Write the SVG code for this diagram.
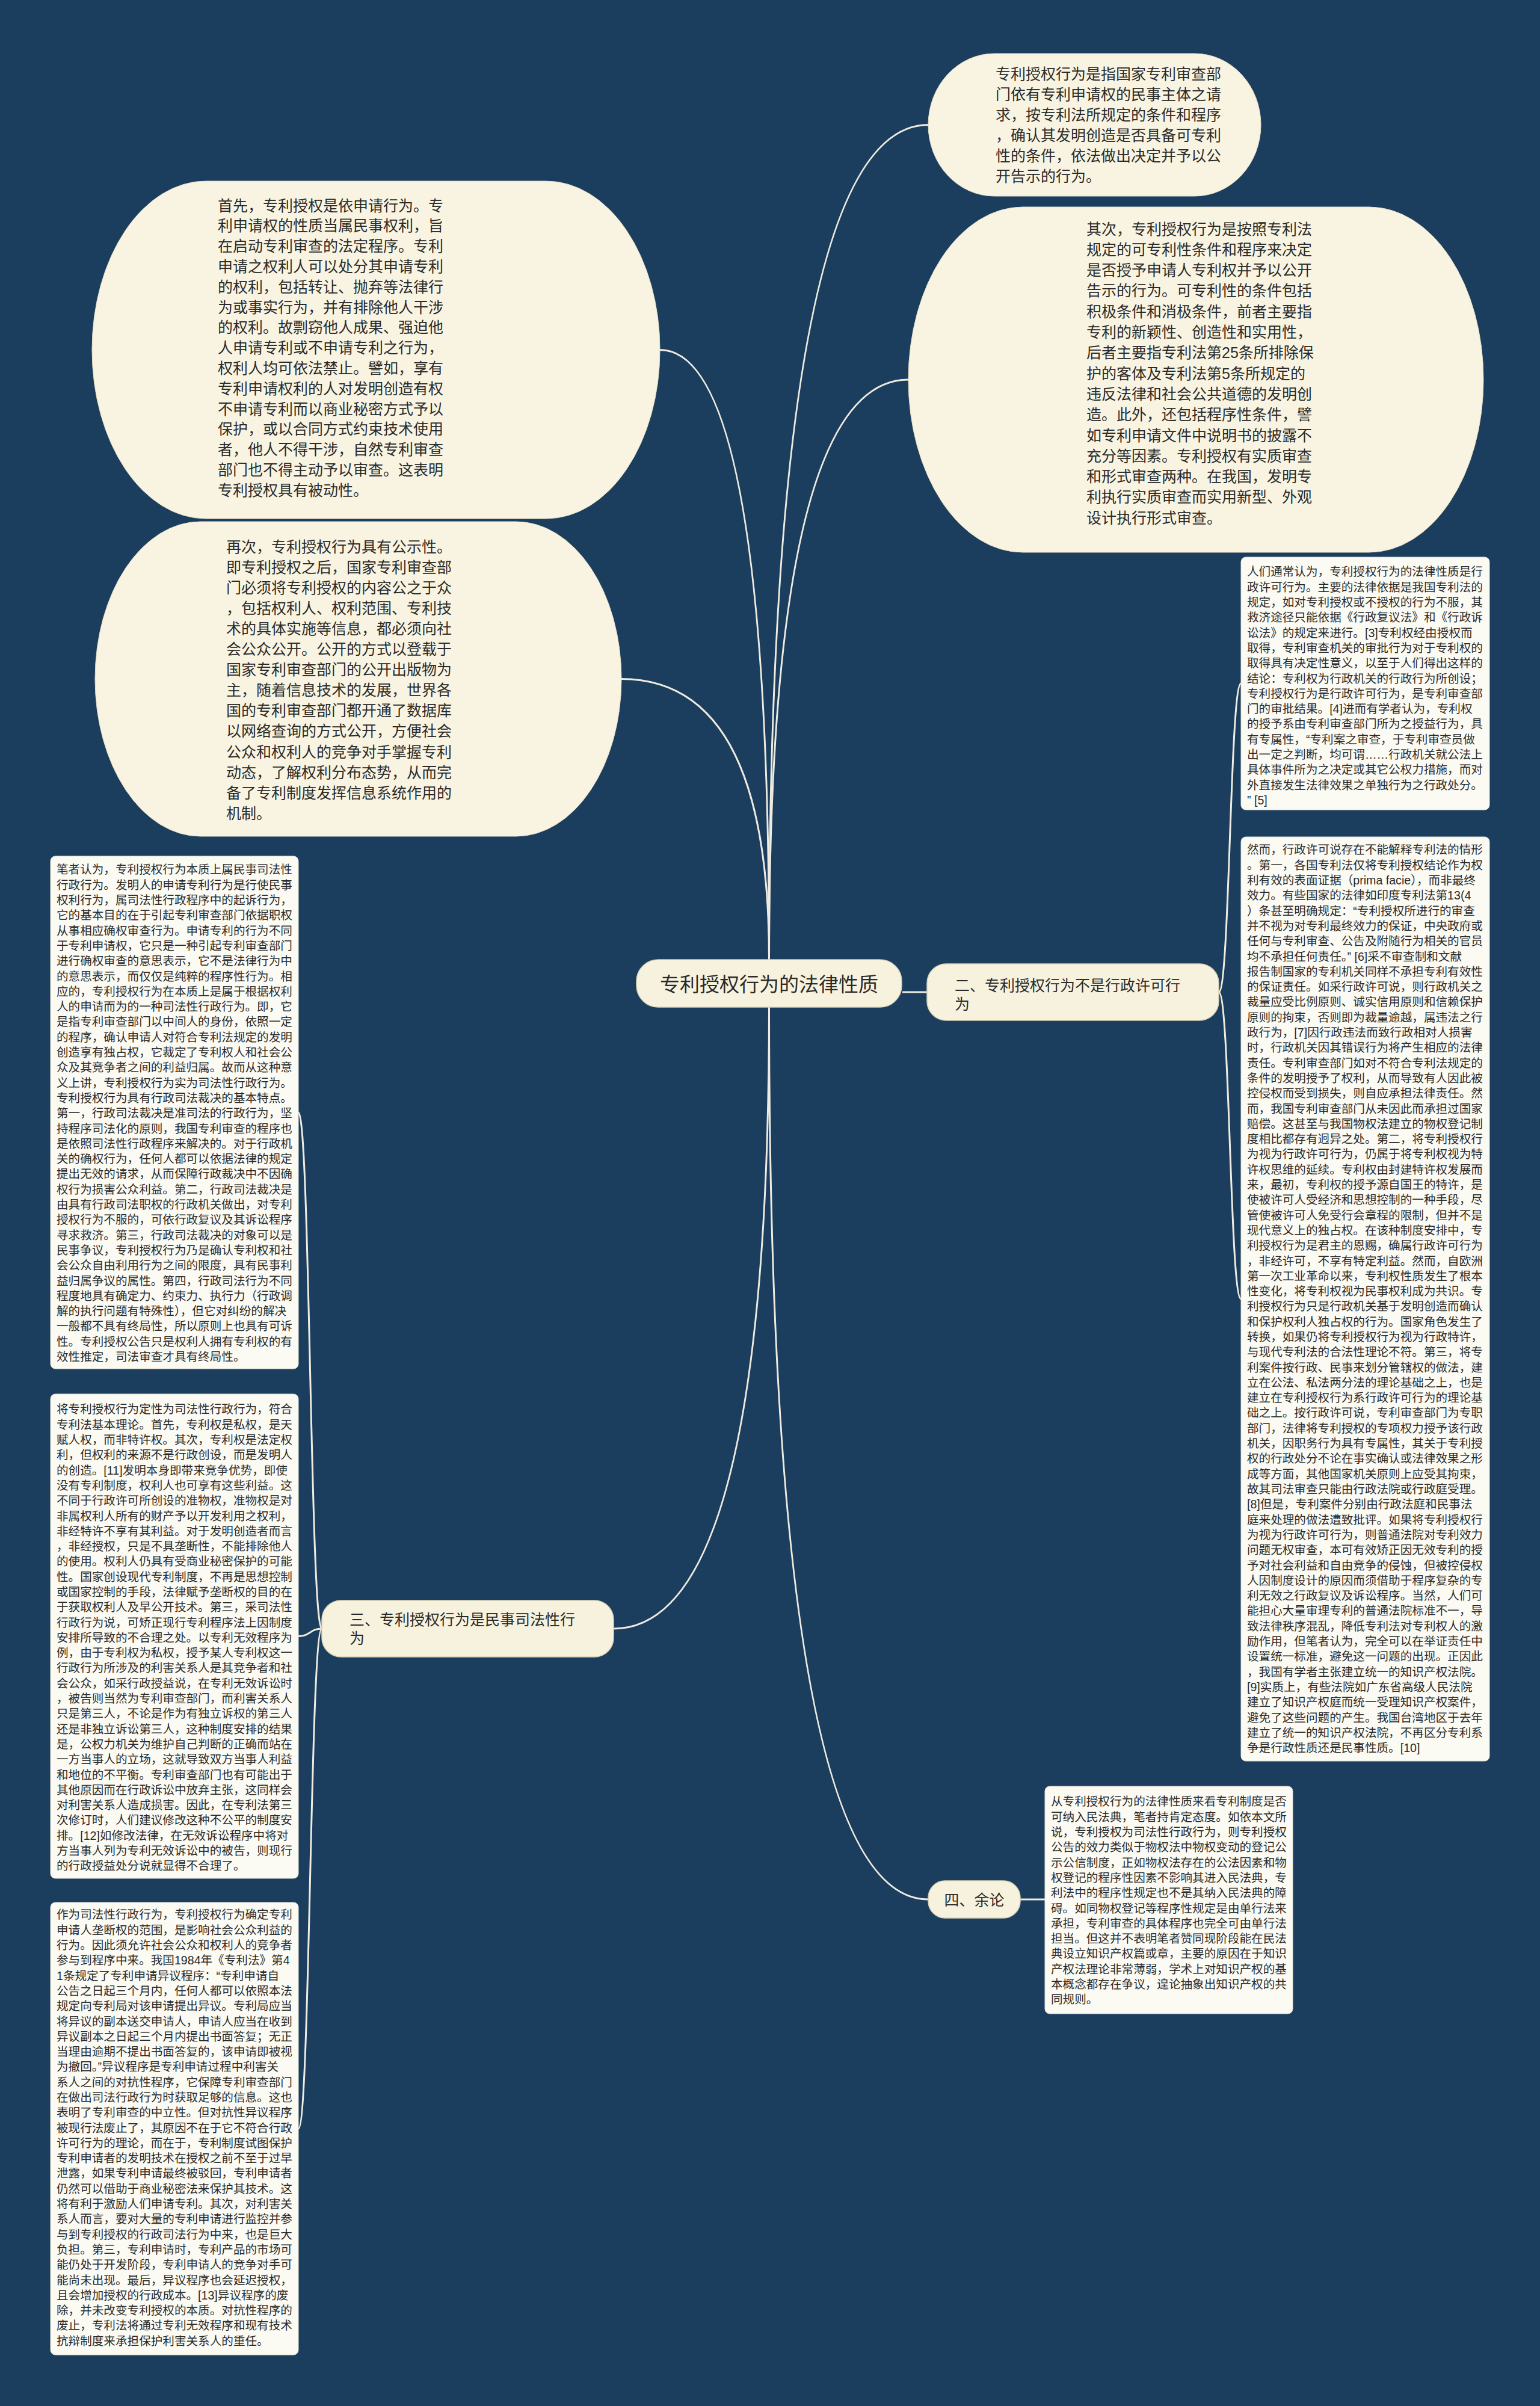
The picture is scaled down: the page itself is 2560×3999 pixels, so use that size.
<svg xmlns="http://www.w3.org/2000/svg" width="2560" height="3999" viewBox="0 0 2560 3999">
<style>
.bg{fill:#1b3d5e}
.ell{fill:#f8f4e1;stroke:#e6dfc6;stroke-width:1}
.pill{fill:#f7f2de;stroke:#d8d0b4;stroke-width:1.5}
.box{fill:#fbfaf3;stroke:#e4e2d6;stroke-width:1}
.link{fill:none;stroke:#efebe0;stroke-width:3}
text{font-family:"Liberation Sans","Noto Sans CJK SC",sans-serif;fill:#2a2a2a}
.t25{font-size:25px}
.t19{font-size:19.6px}
.t33{font-size:33px}
</style>
<rect class="bg" x="0" y="0" width="2560" height="3999"/>
<g id="connectors">
<path class="link" d="M1278.5 1595 Q1278.5 207.5 1543 207.5"/>
<path class="link" d="M1278.5 1595 Q1278.5 631 1510 631"/>
<path class="link" d="M1278.5 1595 Q1278.5 581.5 1097 581.5"/>
<path class="link" d="M1278.5 1595 Q1278.5 1128.5 1033 1128.5"/>
<path class="link" d="M1278.5 1674 Q1278.5 2707 1020 2707"/>
<path class="link" d="M1278.5 1674 Q1278.5 3157 1543 3157"/>
<path class="link" d="M1500 1649 H1541"/>
<path class="link" d="M2026 1649 C2044.5 1649 2044.5 1136 2063 1136"/>
<path class="link" d="M2026 1649 C2044.5 1649 2044.5 2159 2063 2159"/>
<path class="link" d="M535 2707 C515.5 2707 515.5 1849 496 1849"/>
<path class="link" d="M535 2707 C515.5 2707 515.5 2719.5 496 2719.5"/>
<path class="link" d="M535 2707 C515.5 2707 515.5 3538 496 3538"/>
<path class="link" d="M1696 3157 H1737"/>
</g>
<g id="center">
<rect class="pill" x="1058" y="1595" width="441" height="79" rx="36" ry="36"/>
<text class="t33" x="1278.5" y="1647.5" text-anchor="middle">专利授权行为的法律性质</text>
</g>
<g id="r1">
<rect class="ell" x="1543" y="89" width="553" height="237" rx="110" ry="118.5"/>
<text class="t25"><tspan x="1655" y="132">专利授权行为是指国家专利审查部</tspan><tspan x="1655" dy="34">门依有专利申请权的民事主体之请</tspan><tspan x="1655" dy="34">求，按专利法所规定的条件和程序</tspan><tspan x="1655" dy="34">，确认其发明创造是否具备可专利</tspan><tspan x="1655" dy="34">性的条件，依法做出决定并予以公</tspan><tspan x="1655" dy="34">开告示的行为。</tspan></text>
</g>
<g id="r2">
<rect class="ell" x="1510" y="344" width="956" height="574" rx="190" ry="287"/>
<text class="t25"><tspan x="1806" y="389.5">其次，专利授权行为是按照专利法</tspan><tspan x="1806" dy="34.3">规定的可专利性条件和程序来决定</tspan><tspan x="1806" dy="34.3">是否授予申请人专利权并予以公开</tspan><tspan x="1806" dy="34.3">告示的行为。可专利性的条件包括</tspan><tspan x="1806" dy="34.3">积极条件和消极条件，前者主要指</tspan><tspan x="1806" dy="34.3">专利的新颖性、创造性和实用性，</tspan><tspan x="1806" dy="34.3">后者主要指专利法第25条所排除保</tspan><tspan x="1806" dy="34.3">护的客体及专利法第5条所规定的</tspan><tspan x="1806" dy="34.3">违反法律和社会公共道德的发明创</tspan><tspan x="1806" dy="34.3">造。此外，还包括程序性条件，譬</tspan><tspan x="1806" dy="34.3">如专利申请文件中说明书的披露不</tspan><tspan x="1806" dy="34.3">充分等因素。专利授权有实质审查</tspan><tspan x="1806" dy="34.3">和形式审查两种。在我国，发明专</tspan><tspan x="1806" dy="34.3">利执行实质审查而实用新型、外观</tspan><tspan x="1806" dy="34.3">设计执行形式审查。</tspan></text>
</g>
<g id="l1">
<rect class="ell" x="153" y="301" width="944" height="561" rx="189" ry="280.5"/>
<text class="t25"><tspan x="362" y="350.5">首先，专利授权是依申请行为。专</tspan><tspan x="362" dy="33.8">利申请权的性质当属民事权利，旨</tspan><tspan x="362" dy="33.8">在启动专利审查的法定程序。专利</tspan><tspan x="362" dy="33.8">申请之权利人可以处分其申请专利</tspan><tspan x="362" dy="33.8">的权利，包括转让、抛弃等法律行</tspan><tspan x="362" dy="33.8">为或事实行为，并有排除他人干涉</tspan><tspan x="362" dy="33.8">的权利。故剽窃他人成果、强迫他</tspan><tspan x="362" dy="33.8">人申请专利或不申请专利之行为，</tspan><tspan x="362" dy="33.8">权利人均可依法禁止。譬如，享有</tspan><tspan x="362" dy="33.8">专利申请权利的人对发明创造有权</tspan><tspan x="362" dy="33.8">不申请专利而以商业秘密方式予以</tspan><tspan x="362" dy="33.8">保护，或以合同方式约束技术使用</tspan><tspan x="362" dy="33.8">者，他人不得干涉，自然专利审查</tspan><tspan x="362" dy="33.8">部门也不得主动予以审查。这表明</tspan><tspan x="362" dy="33.8">专利授权具有被动性。</tspan></text>
</g>
<g id="l2">
<rect class="ell" x="158" y="867" width="875" height="523" rx="175" ry="261.5"/>
<text class="t25"><tspan x="376" y="917.5">再次，专利授权行为具有公示性。</tspan><tspan x="376" dy="34.1">即专利授权之后，国家专利审查部</tspan><tspan x="376" dy="34.1">门必须将专利授权的内容公之于众</tspan><tspan x="376" dy="34.1">，包括权利人、权利范围、专利技</tspan><tspan x="376" dy="34.1">术的具体实施等信息，都必须向社</tspan><tspan x="376" dy="34.1">会公众公开。公开的方式以登载于</tspan><tspan x="376" dy="34.1">国家专利审查部门的公开出版物为</tspan><tspan x="376" dy="34.1">主，随着信息技术的发展，世界各</tspan><tspan x="376" dy="34.1">国的专利审查部门都开通了数据库</tspan><tspan x="376" dy="34.1">以网络查询的方式公开，方便社会</tspan><tspan x="376" dy="34.1">公众和权利人的竞争对手掌握专利</tspan><tspan x="376" dy="34.1">动态，了解权利分布态势，从而完</tspan><tspan x="376" dy="34.1">备了专利制度发挥信息系统作用的</tspan><tspan x="376" dy="34.1">机制。</tspan></text>
</g>
<g id="b2">
<rect class="pill" x="1541" y="1602" width="485" height="94" rx="32" ry="32"/>
<text class="t25"><tspan x="1587" y="1647">二、专利授权行为不是行政许可行</tspan><tspan x="1587" dy="31">为</tspan></text>
</g>
<g id="b3">
<rect class="pill" x="535" y="2660" width="485" height="94" rx="32" ry="32"/>
<text class="t25"><tspan x="581" y="2701">三、专利授权行为是民事司法性行</tspan><tspan x="581" dy="31">为</tspan></text>
</g>
<g id="b4">
<rect class="pill" x="1543" y="3126" width="153" height="62" rx="28" ry="28"/>
<text class="t25" x="1619.5" y="3166.5" text-anchor="middle">四、余论</text>
</g>
<g id="r-box1">
<rect class="box" x="2063" y="926" width="413" height="420" rx="8"/>
<text class="t19"><tspan x="2073" y="957.4">人们通常认为，专利授权行为的法律性质是行</tspan><tspan x="2073" dy="25.3">政许可行为。主要的法律依据是我国专利法的</tspan><tspan x="2073" dy="25.3">规定，如对专利授权或不授权的行为不服，其</tspan><tspan x="2073" dy="25.3">救济途径只能依据《行政复议法》和《行政诉</tspan><tspan x="2073" dy="25.3">讼法》的规定来进行。[3]专利权经由授权而</tspan><tspan x="2073" dy="25.3">取得，专利审查机关的审批行为对于专利权的</tspan><tspan x="2073" dy="25.3">取得具有决定性意义，以至于人们得出这样的</tspan><tspan x="2073" dy="25.3">结论：专利权为行政机关的行政行为所创设；</tspan><tspan x="2073" dy="25.3">专利授权行为是行政许可行为，是专利审查部</tspan><tspan x="2073" dy="25.3">门的审批结果。[4]进而有学者认为，专利权</tspan><tspan x="2073" dy="25.3">的授予系由专利审查部门所为之授益行为，具</tspan><tspan x="2073" dy="25.3">有专属性，“专利案之审查，于专利审查员做</tspan><tspan x="2073" dy="25.3">出一定之判断，均可谓……行政机关就公法上</tspan><tspan x="2073" dy="25.3">具体事件所为之决定或其它公权力措施，而对</tspan><tspan x="2073" dy="25.3">外直接发生法律效果之单独行为之行政处分。</tspan><tspan x="2073" dy="25.3">” [5]</tspan></text>
</g>
<g id="r-box2">
<rect class="box" x="2063" y="1391" width="413" height="1536" rx="8"/>
<text class="t19"><tspan x="2073" y="1419.4">然而，行政许可说存在不能解释专利法的情形</tspan><tspan x="2073" dy="25.3">。第一，各国专利法仅将专利授权结论作为权</tspan><tspan x="2073" dy="25.3">利有效的表面证据（prima facie），而非最终</tspan><tspan x="2073" dy="25.3">效力。有些国家的法律如印度专利法第13(4</tspan><tspan x="2073" dy="25.3">）条甚至明确规定：“专利授权所进行的审查</tspan><tspan x="2073" dy="25.3">并不视为对专利最终效力的保证，中央政府或</tspan><tspan x="2073" dy="25.3">任何与专利审查、公告及附随行为相关的官员</tspan><tspan x="2073" dy="25.3">均不承担任何责任。” [6]采不审查制和文献</tspan><tspan x="2073" dy="25.3">报告制国家的专利机关同样不承担专利有效性</tspan><tspan x="2073" dy="25.3">的保证责任。如采行政许可说，则行政机关之</tspan><tspan x="2073" dy="25.3">裁量应受比例原则、诚实信用原则和信赖保护</tspan><tspan x="2073" dy="25.3">原则的拘束，否则即为裁量逾越，属违法之行</tspan><tspan x="2073" dy="25.3">政行为，[7]因行政违法而致行政相对人损害</tspan><tspan x="2073" dy="25.3">时，行政机关因其错误行为将产生相应的法律</tspan><tspan x="2073" dy="25.3">责任。专利审查部门如对不符合专利法规定的</tspan><tspan x="2073" dy="25.3">条件的发明授予了权利，从而导致有人因此被</tspan><tspan x="2073" dy="25.3">控侵权而受到损失，则自应承担法律责任。然</tspan><tspan x="2073" dy="25.3">而，我国专利审查部门从未因此而承担过国家</tspan><tspan x="2073" dy="25.3">赔偿。这甚至与我国物权法建立的物权登记制</tspan><tspan x="2073" dy="25.3">度相比都存有迥异之处。第二，将专利授权行</tspan><tspan x="2073" dy="25.3">为视为行政许可行为，仍属于将专利权视为特</tspan><tspan x="2073" dy="25.3">许权思维的延续。专利权由封建特许权发展而</tspan><tspan x="2073" dy="25.3">来，最初，专利权的授予源自国王的特许，是</tspan><tspan x="2073" dy="25.3">使被许可人受经济和思想控制的一种手段，尽</tspan><tspan x="2073" dy="25.3">管使被许可人免受行会章程的限制，但并不是</tspan><tspan x="2073" dy="25.3">现代意义上的独占权。在该种制度安排中，专</tspan><tspan x="2073" dy="25.3">利授权行为是君主的恩赐，确属行政许可行为</tspan><tspan x="2073" dy="25.3">，非经许可，不享有特定利益。然而，自欧洲</tspan><tspan x="2073" dy="25.3">第一次工业革命以来，专利权性质发生了根本</tspan><tspan x="2073" dy="25.3">性变化，将专利权视为民事权利成为共识。专</tspan><tspan x="2073" dy="25.3">利授权行为只是行政机关基于发明创造而确认</tspan><tspan x="2073" dy="25.3">和保护权利人独占权的行为。国家角色发生了</tspan><tspan x="2073" dy="25.3">转换，如果仍将专利授权行为视为行政特许，</tspan><tspan x="2073" dy="25.3">与现代专利法的合法性理论不符。第三，将专</tspan><tspan x="2073" dy="25.3">利案件按行政、民事来划分管辖权的做法，建</tspan><tspan x="2073" dy="25.3">立在公法、私法两分法的理论基础之上，也是</tspan><tspan x="2073" dy="25.3">建立在专利授权行为系行政许可行为的理论基</tspan><tspan x="2073" dy="25.3">础之上。按行政许可说，专利审查部门为专职</tspan><tspan x="2073" dy="25.3">部门，法律将专利授权的专项权力授予该行政</tspan><tspan x="2073" dy="25.3">机关，因职务行为具有专属性，其关于专利授</tspan><tspan x="2073" dy="25.3">权的行政处分不论在事实确认或法律效果之形</tspan><tspan x="2073" dy="25.3">成等方面，其他国家机关原则上应受其拘束，</tspan><tspan x="2073" dy="25.3">故其司法审查只能由行政法院或行政庭受理。</tspan><tspan x="2073" dy="25.3">[8]但是，专利案件分别由行政法庭和民事法</tspan><tspan x="2073" dy="25.3">庭来处理的做法遭致批评。如果将专利授权行</tspan><tspan x="2073" dy="25.3">为视为行政许可行为，则普通法院对专利效力</tspan><tspan x="2073" dy="25.3">问题无权审查，本可有效矫正因无效专利的授</tspan><tspan x="2073" dy="25.3">予对社会利益和自由竞争的侵蚀，但被控侵权</tspan><tspan x="2073" dy="25.3">人因制度设计的原因而须借助于程序复杂的专</tspan><tspan x="2073" dy="25.3">利无效之行政复议及诉讼程序。当然，人们可</tspan><tspan x="2073" dy="25.3">能担心大量审理专利的普通法院标准不一，导</tspan><tspan x="2073" dy="25.3">致法律秩序混乱，降低专利法对专利权人的激</tspan><tspan x="2073" dy="25.3">励作用，但笔者认为，完全可以在举证责任中</tspan><tspan x="2073" dy="25.3">设置统一标准，避免这一问题的出现。正因此</tspan><tspan x="2073" dy="25.3">，我国有学者主张建立统一的知识产权法院。</tspan><tspan x="2073" dy="25.3">[9]实质上，有些法院如广东省高级人民法院</tspan><tspan x="2073" dy="25.3">建立了知识产权庭而统一受理知识产权案件，</tspan><tspan x="2073" dy="25.3">避免了这些问题的产生。我国台湾地区于去年</tspan><tspan x="2073" dy="25.3">建立了统一的知识产权法院，不再区分专利系</tspan><tspan x="2073" dy="25.3">争是行政性质还是民事性质。[10]</tspan></text>
</g>
<g id="l-box1">
<rect class="box" x="84" y="1423" width="412" height="852" rx="8"/>
<text class="t19"><tspan x="94" y="1452.4">笔者认为，专利授权行为本质上属民事司法性</tspan><tspan x="94" dy="25.3">行政行为。发明人的申请专利行为是行使民事</tspan><tspan x="94" dy="25.3">权利行为，属司法性行政程序中的起诉行为，</tspan><tspan x="94" dy="25.3">它的基本目的在于引起专利审查部门依据职权</tspan><tspan x="94" dy="25.3">从事相应确权审查行为。申请专利的行为不同</tspan><tspan x="94" dy="25.3">于专利申请权，它只是一种引起专利审查部门</tspan><tspan x="94" dy="25.3">进行确权审查的意思表示，它不是法律行为中</tspan><tspan x="94" dy="25.3">的意思表示，而仅仅是纯粹的程序性行为。相</tspan><tspan x="94" dy="25.3">应的，专利授权行为在本质上是属于根据权利</tspan><tspan x="94" dy="25.3">人的申请而为的一种司法性行政行为。即，它</tspan><tspan x="94" dy="25.3">是指专利审查部门以中间人的身份，依照一定</tspan><tspan x="94" dy="25.3">的程序，确认申请人对符合专利法规定的发明</tspan><tspan x="94" dy="25.3">创造享有独占权，它裁定了专利权人和社会公</tspan><tspan x="94" dy="25.3">众及其竞争者之间的利益归属。故而从这种意</tspan><tspan x="94" dy="25.3">义上讲，专利授权行为实为司法性行政行为。</tspan><tspan x="94" dy="25.3">专利授权行为具有行政司法裁决的基本特点。</tspan><tspan x="94" dy="25.3">第一，行政司法裁决是准司法的行政行为，坚</tspan><tspan x="94" dy="25.3">持程序司法化的原则，我国专利审查的程序也</tspan><tspan x="94" dy="25.3">是依照司法性行政程序来解决的。对于行政机</tspan><tspan x="94" dy="25.3">关的确权行为，任何人都可以依据法律的规定</tspan><tspan x="94" dy="25.3">提出无效的请求，从而保障行政裁决中不因确</tspan><tspan x="94" dy="25.3">权行为损害公众利益。第二，行政司法裁决是</tspan><tspan x="94" dy="25.3">由具有行政司法职权的行政机关做出，对专利</tspan><tspan x="94" dy="25.3">授权行为不服的，可依行政复议及其诉讼程序</tspan><tspan x="94" dy="25.3">寻求救济。第三，行政司法裁决的对象可以是</tspan><tspan x="94" dy="25.3">民事争议，专利授权行为乃是确认专利权和社</tspan><tspan x="94" dy="25.3">会公众自由利用行为之间的限度，具有民事利</tspan><tspan x="94" dy="25.3">益归属争议的属性。第四，行政司法行为不同</tspan><tspan x="94" dy="25.3">程度地具有确定力、约束力、执行力（行政调</tspan><tspan x="94" dy="25.3">解的执行问题有特殊性），但它对纠纷的解决</tspan><tspan x="94" dy="25.3">一般都不具有终局性，所以原则上也具有可诉</tspan><tspan x="94" dy="25.3">性。专利授权公告只是权利人拥有专利权的有</tspan><tspan x="94" dy="25.3">效性推定，司法审查才具有终局性。</tspan></text>
</g>
<g id="l-box2">
<rect class="box" x="84" y="2317" width="412" height="805" rx="8"/>
<text class="t19"><tspan x="94" y="2349.4">将专利授权行为定性为司法性行政行为，符合</tspan><tspan x="94" dy="25.3">专利法基本理论。首先，专利权是私权，是天</tspan><tspan x="94" dy="25.3">赋人权，而非特许权。其次，专利权是法定权</tspan><tspan x="94" dy="25.3">利，但权利的来源不是行政创设，而是发明人</tspan><tspan x="94" dy="25.3">的创造。[11]发明本身即带来竞争优势，即使</tspan><tspan x="94" dy="25.3">没有专利制度，权利人也可享有这些利益。这</tspan><tspan x="94" dy="25.3">不同于行政许可所创设的准物权，准物权是对</tspan><tspan x="94" dy="25.3">非属权利人所有的财产予以开发利用之权利，</tspan><tspan x="94" dy="25.3">非经特许不享有其利益。对于发明创造者而言</tspan><tspan x="94" dy="25.3">，非经授权，只是不具垄断性，不能排除他人</tspan><tspan x="94" dy="25.3">的使用。权利人仍具有受商业秘密保护的可能</tspan><tspan x="94" dy="25.3">性。国家创设现代专利制度，不再是思想控制</tspan><tspan x="94" dy="25.3">或国家控制的手段，法律赋予垄断权的目的在</tspan><tspan x="94" dy="25.3">于获取权利人及早公开技术。第三，采司法性</tspan><tspan x="94" dy="25.3">行政行为说，可矫正现行专利程序法上因制度</tspan><tspan x="94" dy="25.3">安排所导致的不合理之处。以专利无效程序为</tspan><tspan x="94" dy="25.3">例，由于专利权为私权，授予某人专利权这一</tspan><tspan x="94" dy="25.3">行政行为所涉及的利害关系人是其竞争者和社</tspan><tspan x="94" dy="25.3">会公众，如采行政授益说，在专利无效诉讼时</tspan><tspan x="94" dy="25.3">，被告则当然为专利审查部门，而利害关系人</tspan><tspan x="94" dy="25.3">只是第三人，不论是作为有独立诉权的第三人</tspan><tspan x="94" dy="25.3">还是非独立诉讼第三人，这种制度安排的结果</tspan><tspan x="94" dy="25.3">是，公权力机关为维护自己判断的正确而站在</tspan><tspan x="94" dy="25.3">一方当事人的立场，这就导致双方当事人利益</tspan><tspan x="94" dy="25.3">和地位的不平衡。专利审查部门也有可能出于</tspan><tspan x="94" dy="25.3">其他原因而在行政诉讼中放弃主张，这同样会</tspan><tspan x="94" dy="25.3">对利害关系人造成损害。因此，在专利法第三</tspan><tspan x="94" dy="25.3">次修订时，人们建议修改这种不公平的制度安</tspan><tspan x="94" dy="25.3">排。[12]如修改法律，在无效诉讼程序中将对</tspan><tspan x="94" dy="25.3">方当事人列为专利无效诉讼中的被告，则现行</tspan><tspan x="94" dy="25.3">的行政授益处分说就显得不合理了。</tspan></text>
</g>
<g id="l-box3">
<rect class="box" x="84" y="3162" width="412" height="752" rx="8"/>
<text class="t19"><tspan x="94" y="3189.4">作为司法性行政行为，专利授权行为确定专利</tspan><tspan x="94" dy="25.3">申请人垄断权的范围，是影响社会公众利益的</tspan><tspan x="94" dy="25.3">行为。因此须允许社会公众和权利人的竞争者</tspan><tspan x="94" dy="25.3">参与到程序中来。我国1984年《专利法》第4</tspan><tspan x="94" dy="25.3">1条规定了专利申请异议程序：“专利申请自</tspan><tspan x="94" dy="25.3">公告之日起三个月内，任何人都可以依照本法</tspan><tspan x="94" dy="25.3">规定向专利局对该申请提出异议。专利局应当</tspan><tspan x="94" dy="25.3">将异议的副本送交申请人，申请人应当在收到</tspan><tspan x="94" dy="25.3">异议副本之日起三个月内提出书面答复；无正</tspan><tspan x="94" dy="25.3">当理由逾期不提出书面答复的，该申请即被视</tspan><tspan x="94" dy="25.3">为撤回。”异议程序是专利申请过程中利害关</tspan><tspan x="94" dy="25.3">系人之间的对抗性程序，它保障专利审查部门</tspan><tspan x="94" dy="25.3">在做出司法行政行为时获取足够的信息。这也</tspan><tspan x="94" dy="25.3">表明了专利审查的中立性。但对抗性异议程序</tspan><tspan x="94" dy="25.3">被现行法废止了，其原因不在于它不符合行政</tspan><tspan x="94" dy="25.3">许可行为的理论，而在于，专利制度试图保护</tspan><tspan x="94" dy="25.3">专利申请者的发明技术在授权之前不至于过早</tspan><tspan x="94" dy="25.3">泄露，如果专利申请最终被驳回，专利申请者</tspan><tspan x="94" dy="25.3">仍然可以借助于商业秘密法来保护其技术。这</tspan><tspan x="94" dy="25.3">将有利于激励人们申请专利。其次，对利害关</tspan><tspan x="94" dy="25.3">系人而言，要对大量的专利申请进行监控并参</tspan><tspan x="94" dy="25.3">与到专利授权的行政司法行为中来，也是巨大</tspan><tspan x="94" dy="25.3">负担。第三，专利申请时，专利产品的市场可</tspan><tspan x="94" dy="25.3">能仍处于开发阶段，专利申请人的竞争对手可</tspan><tspan x="94" dy="25.3">能尚未出现。最后，异议程序也会延迟授权，</tspan><tspan x="94" dy="25.3">且会增加授权的行政成本。[13]异议程序的废</tspan><tspan x="94" dy="25.3">除，并未改变专利授权的本质。对抗性程序的</tspan><tspan x="94" dy="25.3">废止，专利法将通过专利无效程序和现有技术</tspan><tspan x="94" dy="25.3">抗辩制度来承担保护利害关系人的重任。</tspan></text>
</g>
<g id="b4-box">
<rect class="box" x="1737" y="2969" width="412" height="378" rx="8"/>
<text class="t19"><tspan x="1747" y="3001.4">从专利授权行为的法律性质来看专利制度是否</tspan><tspan x="1747" dy="25.3">可纳入民法典，笔者持肯定态度。如依本文所</tspan><tspan x="1747" dy="25.3">说，专利授权为司法性行政行为，则专利授权</tspan><tspan x="1747" dy="25.3">公告的效力类似于物权法中物权变动的登记公</tspan><tspan x="1747" dy="25.3">示公信制度，正如物权法存在的公法因素和物</tspan><tspan x="1747" dy="25.3">权登记的程序性因素不影响其进入民法典，专</tspan><tspan x="1747" dy="25.3">利法中的程序性规定也不是其纳入民法典的障</tspan><tspan x="1747" dy="25.3">碍。如同物权登记等程序性规定是由单行法来</tspan><tspan x="1747" dy="25.3">承担，专利审查的具体程序也完全可由单行法</tspan><tspan x="1747" dy="25.3">担当。但这并不表明笔者赞同现阶段能在民法</tspan><tspan x="1747" dy="25.3">典设立知识产权篇或章，主要的原因在于知识</tspan><tspan x="1747" dy="25.3">产权法理论非常薄弱，学术上对知识产权的基</tspan><tspan x="1747" dy="25.3">本概念都存在争议，遑论抽象出知识产权的共</tspan><tspan x="1747" dy="25.3">同规则。</tspan></text>
</g>
</svg>
